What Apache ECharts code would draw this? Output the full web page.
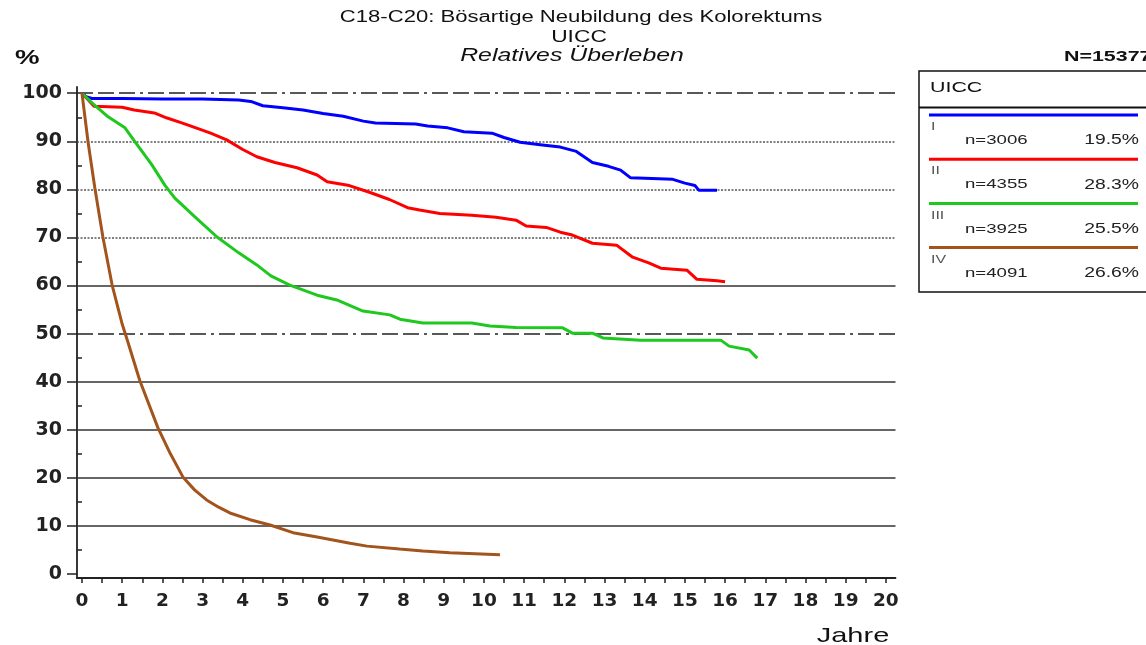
<!DOCTYPE html>
<html><head><meta charset="utf-8">
<script src="https://cdn.jsdelivr.net/npm/echarts@6/dist/echarts.min.js"></script>
<style>html,body{margin:0;padding:0;background:#fff}#c{width:1146px;height:645px}</style>
</head><body><div id="c"></div>
<script>
// ---- data ----
const xTicks = [0,1,2,3,4,5,6,7,8,9,10,11,12,13,14,15,16,17,18,19,20];
const xMinorTicks = [0,0.5,1,1.5,2,2.5,3,3.5,4,4.5,5,5.5,6,6.5,7,7.5,8,8.5,9,9.5,10,10.5,11,11.5,12,12.5,13,13.5,14,14.5,15,15.5,16,16.5,17,17.5,18,18.5,19,19.5,20];
const yTicks = [0,10,20,30,40,50,60,70,80,90,100];
const yMinorTicks = [5,15,25,35,45,55,65,75,85,95];
const gridLevels = [100,90,80,70,60,50,40,30,20,10];

const stageNames = ['I','II','III','IV'];
const stageCounts = ['n=3006','n=4355','n=3925','n=4091'];
const stageShares = ['19.5%','28.3%','25.5%','26.6%'];

const stageI = [[0,100],[0.1,99.3],[0.25,98.9],[1,98.9],[2,98.8],[3,98.8],[3.9,98.6],[4.2,98.3],[4.5,97.4],[5.0,97.0],[5.5,96.5],[6.0,95.8],[6.5,95.2],[7.0,94.2],[7.3,93.8],[8.3,93.6],[8.6,93.2],[9.1,92.8],[9.5,92.0],[10.2,91.7],[10.5,90.8],[10.9,89.8],[11.4,89.3],[11.9,88.8],[12.3,87.9],[12.7,85.6],[13.1,84.8],[13.4,84.0],[13.65,82.4],[14.7,82.1],[15.0,81.3],[15.25,80.8],[15.35,79.8],[15.8,79.8]];
const stageII = [[0,100],[0.3,97.3],[1.0,97.1],[1.3,96.5],[1.8,95.9],[2.1,94.9],[2.5,93.8],[2.8,92.9],[3.2,91.7],[3.6,90.3],[4.0,88.3],[4.35,86.8],[4.8,85.6],[5.35,84.5],[5.85,83.0],[6.1,81.6],[6.65,80.8],[7.15,79.4],[7.65,77.9],[8.1,76.2],[8.4,75.7],[8.9,75.0],[9.7,74.6],[10.3,74.2],[10.8,73.6],[11.05,72.4],[11.55,72.1],[11.9,71.1],[12.2,70.5],[12.7,68.8],[13.3,68.4],[13.7,65.9],[14.1,64.7],[14.4,63.6],[15.05,63.2],[15.3,61.3],[15.8,61.0],[16.0,60.8]];
const stageIII = [[0,100],[0.25,98.0],[0.65,95.1],[1.07,92.8],[1.32,89.9],[1.74,85.1],[2.06,80.9],[2.31,78.2],[2.81,74.3],[3.36,70.1],[3.9,66.8],[4.35,64.3],[4.7,62.0],[5.17,60.1],[5.85,58.0],[6.34,57.0],[6.99,54.7],[7.66,53.9],[7.91,53.0],[8.48,52.2],[9.7,52.2],[10.15,51.6],[10.8,51.3],[11.96,51.2],[12.2,50.1],[12.7,50.1],[12.96,49.1],[13.9,48.6],[15.9,48.6],[16.1,47.4],[16.6,46.6],[16.8,44.9]];
const stageIV = [[0,100],[0.15,89.9],[0.32,80.3],[0.52,70.1],[0.75,60.1],[1.0,52.0],[1.14,48.3],[1.44,40.2],[1.89,30.4],[2.2,25.0],[2.51,20.2],[2.8,17.5],[3.1,15.4],[3.4,13.9],[3.68,12.7],[4.18,11.3],[4.68,10.2],[5.25,8.6],[5.85,7.7],[6.67,6.4],[7.09,5.8],[7.9,5.2],[8.48,4.8],[9.15,4.4],[10.4,4.0]];

// ---- styles ----
const colors = ['#0000ff','#ff0000','#1ec81e','#a3541c'];
const seriesData = [stageI, stageII, stageIII, stageIV];
const FONT = 'Liberation Sans';
const SX = 1.38;

function gridStyle(v){
  if (v === 100 || v === 50) return {color:'#222', width:1.5, type:[16,5,16,5,16,5,3,5]};
  if (v === 90 || v === 80 || v === 70) return {color:'#555', width:1.5, type:[2,1.5]};
  return {color:'#333', width:1.5, type:'solid'};
}

const chart = echarts.init(document.getElementById('c'), null, {renderer:'canvas'});

const series = seriesData.map((d,i) => ({
  type:'line', name: stageNames[i], data: d, showSymbol:false, symbol:'none',
  lineStyle:{color:colors[i], width:3}, itemStyle:{color:colors[i]}, z:10,
  silent:true, animation:false
}));
series.push({
  type:'line', data:[], z:1, silent:true, animation:false,
  markLine:{ z:1, silent:true, symbol:['none','none'], label:{show:false}, animation:false,
    emphasis:{disabled:true},
    data: gridLevels.map(v => ({yAxis:v, lineStyle:gridStyle(v)})) }
});

const graphic = [];
function txt(x,y,text,opt){
  graphic.push(Object.assign({type:'text', x:x, y:y, scaleX:SX, silent:true,
    style:Object.assign({text:text, fontFamily:FONT, fontSize:14, fill:'#111', textAlign:'left', textVerticalAlign:'middle'}, opt.style||{})}, opt.el||{}));
}
txt(581,18,'C18-C20: Bösartige Neubildung des Kolorektums',{style:{fontSize:16,textAlign:'center'}});
txt(579,37,'UICC',{style:{fontSize:16.5,textAlign:'center'}});
txt(572,56,'Relatives Überleben',{style:{fontSize:18,fontStyle:'italic',textAlign:'center'}});
txt(15,58,'%',{style:{fontSize:20,fontWeight:'bold'}});
txt(1064,57,'N=15377',{style:{fontSize:15.5,fontWeight:'bold'}});
txt(853,636,'Jahre',{style:{fontSize:21,textAlign:'center'}});

// legend box
graphic.push({type:'rect', silent:true, shape:{x:919,y:71,width:260,height:221}, style:{fill:'none', stroke:'#111', lineWidth:1.5}});
graphic.push({type:'line', silent:true, shape:{x1:919,y1:107.5,x2:1146,y2:107.5}, style:{stroke:'#111', lineWidth:2}});
txt(930,88,'UICC',{style:{fontSize:15.5}});
stageNames.forEach((n,i) => {
  const y0 = 115 + i*44.2;
  graphic.push({type:'line', silent:true, shape:{x1:929,y1:y0,x2:1138,y2:y0}, style:{stroke:colors[i], lineWidth:3}});
  txt(931,y0+12,n,{style:{fontSize:11.5,fill:'#555'}});
  txt(965,y0+25.5,stageCounts[i],{style:{fontSize:13.5,fill:'#222'}});
  txt(1139,y0+25.5,stageShares[i],{style:{fontSize:14,fill:'#222',textAlign:'right'}});
});

const axisCol = '#222';
chart.setOption({
  animation:false,
  backgroundColor:'#fff',
  grid:{left:77, top:87, width:818.5, height:491, containLabel:false},
  xAxis:{type:'value', min:-0.124, max:20.24,
    axisLine:{show:true, onZero:false, lineStyle:{color:axisCol, width:1.8}},
    axisTick:{show:true, customValues:xMinorTicks, length:5, lineStyle:{color:axisCol, width:1.5}},
    axisLabel:{show:true, customValues:xTicks, fontFamily:'DejaVu Sans', fontWeight:'bold', fontSize:18.5, color:'#222', margin:14},
    splitLine:{show:false}},
  yAxis:[
    {type:'value', min:-0.83, max:101.3, position:'left',
      axisLine:{show:true, onZero:false, lineStyle:{color:axisCol, width:1.8}},
      axisTick:{show:true, customValues:yTicks, length:10, lineStyle:{color:axisCol, width:1.5}},
      axisLabel:{show:true, customValues:yTicks, fontFamily:'DejaVu Sans', fontWeight:'bold', fontSize:19, color:'#222', margin:15},
      splitLine:{show:false}},
    {type:'value', min:-0.83, max:101.3, position:'left', offset:0,
      axisLine:{show:false},
      axisTick:{show:true, customValues:yMinorTicks, length:5, lineStyle:{color:axisCol, width:1.5}},
      axisLabel:{show:false}, splitLine:{show:false}}
  ],
  series: series,
  graphic: graphic
});
</script></body></html>
